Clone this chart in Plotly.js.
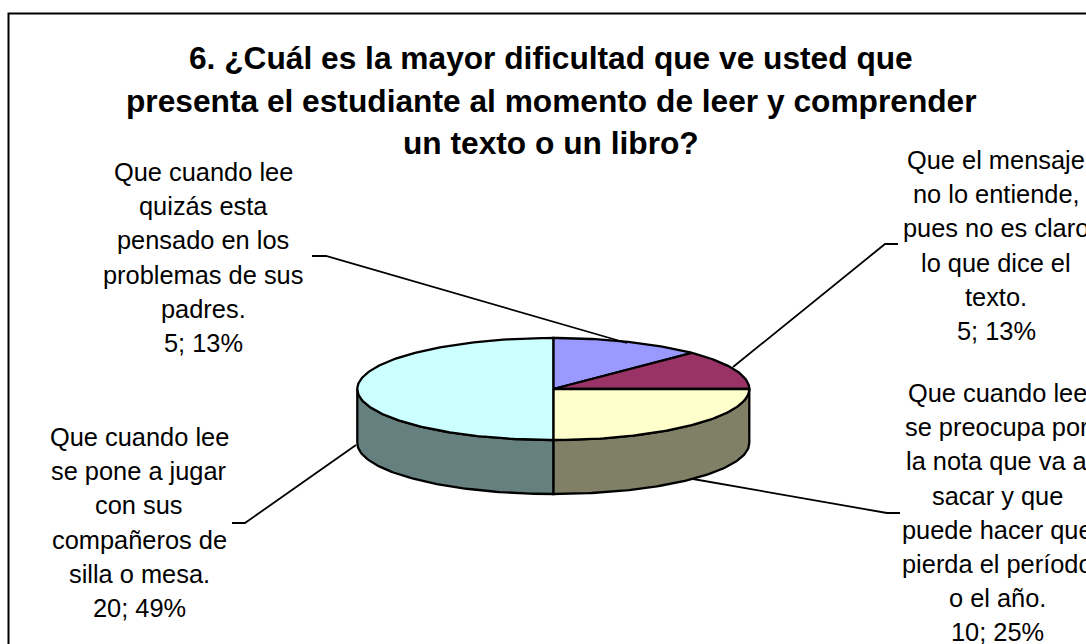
<!DOCTYPE html>
<html><head><meta charset="utf-8">
<script src="https://cdn.plot.ly/plotly-3.0.1.min.js"></script>
<style>html,body{margin:0;padding:0;background:#fff;overflow:hidden}</style>
</head><body><div id="chart" style="width:1086px;height:644px"></div>
<script>
var values = [5, 5, 10, 20];
var topColors = ['#9999FF', '#993366', '#FFFFCC', '#CCFFFF'];
var sideColors = ['#4D4D80', '#4D1A33', '#808066', '#668080'];
var titleLines = ['6. ¿Cuál es la mayor dificultad que ve usted que',
  'presenta el estudiante al momento de leer y comprender',
  'un texto o un libro?'];
var labelLines = [
  ['Que cuando lee','quizás esta','pensado en los','problemas de sus','padres.','5; 13%'],
  ['Que el mensaje','no lo entiende,','pues no es claro','lo que dice el','texto.','5; 13%'],
  ['Que cuando lee','se preocupa por','la nota que va a','sacar y que','puede hacer que','pierda el período','o el año.','10; 25%'],
  ['Que cuando lee','se pone a jugar','con sus','compañeros de','silla o mesa.','20; 49%']
];

var CX = 553.3, CY = 389, RX = 196, RY = 51, DEPTH = 54;
var FONT = 'Liberation Sans, Arial, sans-serif';
var total = values.reduce(function(a,b){return a+b;},0);
function px(t){return CX + RX*Math.sin(t);}
function py(t,d){return CY - RY*Math.cos(t) + (d||0);}
function arc(a,b,d){var xs=[],ys=[],n=Math.max(2,Math.ceil((b-a)/0.02));
  for(var i=0;i<=n;i++){var t=a+(b-a)*i/n;xs.push(px(t));ys.push(py(t,d));}
  return {x:xs,y:ys};}
function poly(x,y,c){return {type:'scatter',mode:'lines',x:x,y:y,fill:'toself',fillcolor:c,
  line:{color:'#000',width:2.3},hoverinfo:'skip',showlegend:false};}

var sides=[],tops=[],acc=0;
values.forEach(function(v,i){
  var a=acc/total*2*Math.PI; acc+=v; var b=acc/total*2*Math.PI;
  var s=Math.max(a,Math.PI/2), e=Math.min(b,3*Math.PI/2);
  if(e>s){
    var up=arc(s,e,0), dn=arc(s,e,DEPTH);
    sides.push(poly(up.x.concat(dn.x.reverse(),[up.x[0]]),up.y.concat(dn.y.reverse(),[up.y[0]]),sideColors[i]));
  }
  var t=arc(a,b,0);
  tops.push(poly([CX].concat(t.x,[CX]),[CY].concat(t.y,[CY]),topColors[i]));
});

var annotations=[];
function addLines(lines,xc,y0,dy,size,bold){
  lines.forEach(function(s,i){
    annotations.push({xref:'x',yref:'y',x:xc,y:y0+i*dy,text:bold?'<b>'+s+'</b>':s,showarrow:false,
      xanchor:'center',yanchor:'middle',font:{family:FONT,size:size,color:'#000'}});
  });
}
addLines(titleLines,551,58,42.5,31.7,true);
addLines(labelLines[0],203,172,34.2,25.4,false);
addLines(labelLines[1],996,160,34.2,25.4,false);
addLines(labelLines[2],997,393,34.2,25.4,false);
addLines(labelLines[3],139,437,34.2,25.4,false);

function seg(pts){return {type:'path',xref:'x',yref:'y',
  path:'M'+pts.map(function(p){return p[0]+','+p[1];}).join('L'),line:{color:'#000',width:1.8}};}
var shapes=[
  {type:'path',xref:'x',yref:'y',path:'M8.5,700L8.5,13.5L1200,13.5',line:{color:'#000',width:2}},
  seg([[312,256],[326,256],[627,343]]),
  seg([[733,367],[885,244],[898,244]]),
  seg([[693,479],[887,513],[900,513]]),
  seg([[356,445],[245,523],[232,523]])
];

Plotly.newPlot('chart',sides.concat(tops),{
  width:1086,height:644,margin:{l:0,r:0,t:0,b:0},paper_bgcolor:'#fff',plot_bgcolor:'#fff',
  xaxis:{range:[0,1086],visible:false,fixedrange:true},
  yaxis:{range:[644,0],visible:false,fixedrange:true},
  annotations:annotations,shapes:shapes,showlegend:false
},{displayModeBar:false,staticPlot:true});
</script></body></html>
